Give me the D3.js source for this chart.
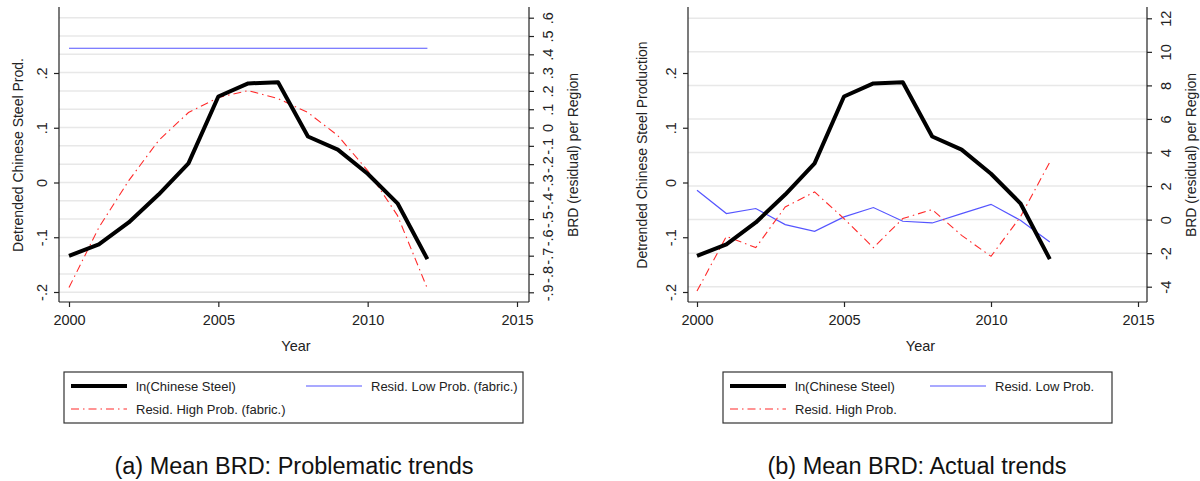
<!DOCTYPE html>
<html>
<head>
<meta charset="utf-8">
<script src="https://cdn.jsdelivr.net/npm/d3@7"></script>
<style>
  body { margin: 0; background: #fff; }
  svg { font-family: "Liberation Sans", Arial, sans-serif; }
  .tick text { fill: #222; }
</style>
</head>
<body>
<svg id="chart" width="1200" height="481"></svg>
<script>
// data
var years = [2000, 2001, 2002, 2003, 2004, 2005, 2006, 2007, 2008, 2009, 2010, 2011, 2012];
var steel = [-0.134, -0.113, -0.073, -0.022, 0.035, 0.157, 0.181, 0.183, 0.084, 0.060, 0.016, -0.038, -0.140];

// panel (a): fabricated residuals
var lowFabric = [0.433, 0.433, 0.433, 0.433, 0.433, 0.433, 0.433, 0.433, 0.433, 0.433, 0.433, 0.433, 0.433];
var highFabric = [-0.874, -0.546, -0.29, -0.071, 0.082, 0.164, 0.202, 0.158, 0.082, -0.044, -0.235, -0.481, -0.88];

// panel (b): actual residuals
var lowActual = [1.75, 0.36, 0.66, -0.3, -0.7, 0.16, 0.72, -0.1, -0.2, 0.36, 0.91, -0.04, -1.33];
var highActual = [-4.26, -1.0, -1.67, 0.75, 1.65, 0.06, -1.67, 0.06, 0.6, -0.94, -2.19, 0.16, 3.43];

var xTicks = [2000, 2005, 2010, 2015];
var leftTicks = [-0.2, -0.1, 0, 0.1, 0.2];
var rightTicksA = [-0.9, -0.8, -0.7, -0.6, -0.5, -0.4, -0.3, -0.2, -0.1, 0, 0.1, 0.2, 0.3, 0.4, 0.5, 0.6];
var rightTicksB = [-4, -2, 0, 2, 4, 6, 8, 10, 12];

var svg = d3.select("#chart");

// stata style ".2", "-.1" with plain hyphen
function stataFmt(v) {
  if (Math.abs(v) < 1e-9) return "0";
  var s = (v < 0 ? "-" : "") + Math.abs(v).toFixed(1);
  return s.replace("0.", ".");
}
function intFmt(v) { return (v < 0 ? "-" : "") + Math.abs(v); }

var RED = "#ff2a2a", BLUE = "#5555ff";
var DASH = "8,4,1.5,4";
var TICK_FS = 14.5;

function drawPanel(p) {
  var g = svg.append("g");
  var x = d3.scaleLinear().domain([2000, 2015]).range([p.x0, p.x1]);
  var yL = d3.scaleLinear().domain([-0.2, 0.2]).range([292, 73]);
  var yR = d3.scaleLinear().domain(p.rDomain).range(p.rRange);
  var top = 7, bottom = 302;

  // gridlines (from right axis)
  g.selectAll("line.grid").data(p.rTicks).enter().append("line")
    .attr("class", "grid")
    .attr("x1", p.axL).attr("x2", p.axR)
    .attr("y1", function(d) { return yR(d); })
    .attr("y2", function(d) { return yR(d); })
    .attr("stroke", "#e8e8e8").attr("stroke-width", 1.5);

  // left axis
  var ga = g.append("g").attr("transform", "translate(" + p.axL + ",0)")
    .call(d3.axisLeft(yL).tickValues(leftTicks).tickFormat(stataFmt).tickSize(5).tickPadding(3));
  ga.select(".domain").attr("d", "M0," + top + "V" + bottom);
  ga.selectAll(".tick text").attr("font-size", TICK_FS)
    .attr("transform", "rotate(-90)").attr("text-anchor", "middle")
    .attr("x", 0).attr("y", -12).attr("dy", "0");

  // right axis
  var gr = g.append("g").attr("transform", "translate(" + p.axR + ",0)")
    .call(d3.axisRight(yR).tickValues(p.rTicks).tickFormat(p.rFmt).tickSize(5));
  gr.select(".domain").attr("d", "M0," + top + "V" + bottom);
  gr.selectAll(".tick text").attr("font-size", TICK_FS)
    .attr("transform", "rotate(-90)").attr("text-anchor", "middle")
    .attr("x", 0).attr("y", 24).attr("dy", "0");

  // x axis
  var gx = g.append("g").attr("transform", "translate(0," + bottom + ")")
    .call(d3.axisBottom(x).tickValues(xTicks).tickFormat(d3.format("d")).tickSize(5));
  gx.select(".domain").attr("d", "M" + p.axL + ",0H" + p.axR);
  gx.selectAll(".tick text").attr("font-size", TICK_FS).attr("dy", "1em");
  g.selectAll(".domain, .tick line").attr("stroke", "#222").attr("stroke-width", 1.2);

  // titles
  g.append("text").attr("x", (p.x0 + p.x1) / 2 + 3).attr("y", 351)
    .attr("text-anchor", "middle").attr("font-size", 14.5).attr("fill", "#222").text("Year");
  g.append("text").attr("transform", "translate(" + p.titleL + ",155) rotate(-90)")
    .attr("text-anchor", "middle").attr("font-size", 14).attr("fill", "#222").text(p.yTitle);
  g.append("text").attr("transform", "translate(" + p.titleR + ",155) rotate(-90)")
    .attr("text-anchor", "middle").attr("font-size", 14).attr("fill", "#222").text("BRD (residual) per Region");

  // series
  var lineL = d3.line().x(function(d, i) { return x(years[i]); }).y(function(d) { return yL(d); });
  var lineR = d3.line().x(function(d, i) { return x(years[i]); }).y(function(d) { return yR(d); });

  g.append("path").datum(p.low).attr("d", lineR)
    .attr("fill", "none").attr("stroke", BLUE).attr("stroke-width", 1.2);
  g.append("path").datum(p.high).attr("d", lineR)
    .attr("fill", "none").attr("stroke", RED).attr("stroke-width", 1.1).attr("stroke-dasharray", DASH);
  g.append("path").datum(steel).attr("d", lineL)
    .attr("fill", "none").attr("stroke", "#000").attr("stroke-width", 4).attr("stroke-linejoin", "round");

  // legend
  var lg = g.append("g");
  lg.append("rect").attr("x", p.leg[0]).attr("y", 372).attr("width", p.leg[1] - p.leg[0]).attr("height", 51)
    .attr("fill", "#fff").attr("stroke", "#333").attr("stroke-width", 1.2);
  var items = [
    {c: p.leg[0] + 7, y: 386, label: "ln(Chinese Steel)", col: "#000", w: 4, dash: null},
    {c: p.legCol2, y: 386, label: p.lowLabel, col: BLUE, w: 1.2, dash: null},
    {c: p.leg[0] + 7, y: 409, label: p.highLabel, col: RED, w: 1.2, dash: DASH}
  ];
  items.forEach(function(it) {
    lg.append("line").attr("x1", it.c).attr("x2", it.c + 56).attr("y1", it.y).attr("y2", it.y)
      .attr("stroke", it.col).attr("stroke-width", it.w).attr("stroke-dasharray", it.dash);
    lg.append("text").attr("x", it.c + 65).attr("y", it.y + 4.5).attr("font-size", 13)
      .attr("fill", "#222").text(it.label);
  });

  // caption
  g.append("text").attr("x", p.capX).attr("y", 474).attr("text-anchor", "middle")
    .attr("font-size", 23.5).attr("fill", "#111").text(p.caption);
}

drawPanel({
  x0: 69, x1: 517, axL: 59, axR: 529,
  rDomain: [-0.9, 0.6], rRange: [292.3, 17.7], rTicks: rightTicksA, rFmt: stataFmt,
  titleL: 23, titleR: 578, yTitle: "Detrended Chinese Steel Prod.",
  low: lowFabric, high: highFabric,
  leg: [64, 523], legCol2: 306,
  lowLabel: "Resid. Low Prob. (fabric.)", highLabel: "Resid. High Prob. (fabric.)",
  capX: 294, caption: "(a) Mean BRD: Problematic trends"
});

drawPanel({
  x0: 697, x1: 1138, axL: 688, axR: 1147,
  rDomain: [-4, 12], rRange: [286.7, 18.3], rTicks: rightTicksB, rFmt: intFmt,
  titleL: 647, titleR: 1196, yTitle: "Detrended Chinese Steel Production",
  low: lowActual, high: highActual,
  leg: [723, 1112], legCol2: 930,
  lowLabel: "Resid. Low Prob.", highLabel: "Resid. High Prob.",
  capX: 917, caption: "(b) Mean BRD: Actual trends"
});
</script>
</body>
</html>
